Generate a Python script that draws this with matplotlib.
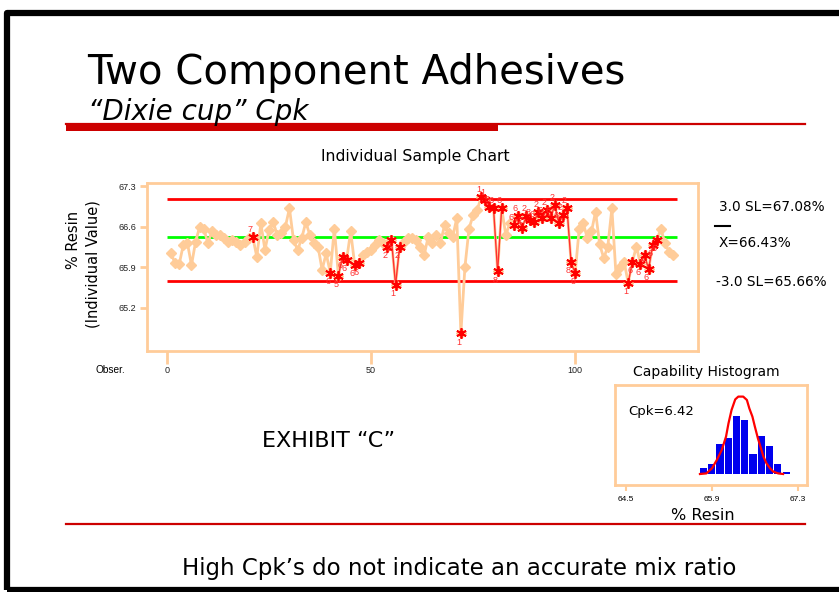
import matplotlib
matplotlib.use("Agg")
import matplotlib.pyplot as plt
from matplotlib.patches import Rectangle
from matplotlib.lines import Line2D

# ---------------- data ----------------
resin = [66.14, 65.97, 65.96, 66.29, 66.32, 65.94, 66.34, 66.60, 66.57, 66.32,
         66.52, 66.46, 66.46, 66.40, 66.34, 66.37, 66.34, 66.29, 66.34, 66.40,
         66.43, 66.08, 66.66, 66.20, 66.55, 66.69, 66.46, 66.50, 66.60, 66.92,
         66.37, 66.20, 66.40, 66.68, 66.46, 66.32, 66.26, 65.86, 66.14, 65.81,
         66.57, 65.76, 66.08, 66.03, 66.52, 65.94, 65.97, 66.11, 66.17, 66.20,
         66.29, 66.37, 66.32, 66.26, 66.37, 65.60, 66.26, 66.34, 66.40, 66.40,
         66.37, 66.26, 66.11, 66.43, 66.32, 66.46, 66.32, 66.63, 66.49, 66.43,
         66.75, 64.76, 65.91, 66.57, 66.80, 66.89, 67.12, 67.06, 66.95, 66.92,
         65.83, 66.92, 66.46, 66.66, 66.63, 66.78, 66.58, 66.78, 66.72, 66.69,
         66.86, 66.75, 66.89, 66.75, 66.98, 66.66, 66.80, 66.92, 65.99, 65.80,
         66.57, 66.66, 66.40, 66.52, 66.86, 66.30, 66.06, 66.26, 66.92, 65.78,
         65.91, 66.00, 65.63, 65.99, 66.26, 65.96, 66.11, 65.87, 66.29, 66.37,
         66.57, 66.32, 66.17, 66.11]
obs = list(range(1, len(resin) + 1))

flag_obs = [21, 40, 42, 43, 44, 46, 47, 54, 55, 56, 57, 72, 77, 78, 79, 80, 81, 82,
            85, 86, 87, 88, 89, 90, 91, 92, 93, 94, 95, 96, 97, 98, 99, 100,
            113, 114, 116, 117, 118, 119, 120]
flag_lbl = ["7", "6", "5", "6", "6", "6", "6", "2", "2", "1", "2", "1", "1", "1", "5", "6", "8", "6",
            "6", "6", "2", "2", "8", "6", "2", "6", "2", "6", "2", "6", "2", "2", "8", "8",
            "1", "6", "6", "7", "6", "6", "6"]

ucl, center, lcl = 67.08, 66.43, 65.66
y_ticks = [65.2, 65.9, 66.6, 67.3]
x_ticks = [0, 50, 100]

hist_centers = [65.76, 65.895, 66.03, 66.165, 66.30, 66.435, 66.57, 66.705, 66.84, 66.975, 67.11]
hist_counts = [3, 5, 15, 18, 29, 27, 10, 19, 14, 5, 1]
curve_x = [65.705, 65.81, 65.90, 65.98, 66.06, 66.13, 66.17, 66.22, 66.28, 66.33, 66.41,
           66.47, 66.51, 66.56, 66.60, 66.65, 66.70, 66.74, 66.79, 66.85, 66.90, 66.98, 67.06]
curve_y = [0.0, 0.3, 2.8, 7.0, 12.0, 18.7, 25.3, 32.0, 37.3, 38.7, 38.7,
           37.0, 32.8, 28.7, 23.7, 17.8, 12.8, 8.7, 5.3, 2.8, 1.2, 0.3, 0.0]
hist_ticks = [64.5, 65.9, 67.3]

# ---------------- figure ----------------
W, H = 839, 592
fig = plt.figure(figsize=(W / 100, H / 100), dpi=100)
fig.patch.set_facecolor("white")

def fx(x):
    return x / W

def fy(y):
    return 1 - y / H

def px_axes(l, t, r, b):
    return fig.add_axes([fx(l), fy(b), (r - l) / W, (b - t) / H])

WIDE = ["DejaVu Sans"]
SANS = ["Liberation Sans", "DejaVu Sans"]
PEACH = "#FFCC99"

# slide border
fig.add_artist(Rectangle((fx(7), fy(590)), fx(860) - fx(7), fy(12.5) - fy(590),
                         transform=fig.transFigure, fill=False, edgecolor="black",
                         linewidth=4.5, joinstyle="round"))

# title
fig.text(fx(87), fy(84), "Two Component Adhesives", family=WIDE, fontsize=29,
         ha="left", va="baseline")
fig.text(fx(88), fy(120), "\u201cDixie cup\u201d Cpk", family=WIDE, fontsize=20,
         style="italic", ha="left", va="baseline")
fig.add_artist(Line2D([fx(66), fx(805)], [fy(123.5), fy(123.5)], transform=fig.transFigure,
                      color="#CC0000", linewidth=1.6))
fig.add_artist(Rectangle((fx(66), fy(131)), fx(498) - fx(66), fy(123) - fy(131),
                         transform=fig.transFigure, color="#CC0000", linewidth=0))

# ---------------- individual chart ----------------
ax = px_axes(147, 183, 698, 351)
ax.set_xlim(-4.9, 130.1)
ax.set_ylim(64.458, 67.356)
for s in ax.spines.values():
    s.set_color(PEACH)
    s.set_linewidth(2)
ax.hlines([ucl, lcl], 0, 125, color="#FF0000", linewidth=2, zorder=2)
ax.hlines([center], 0, 125, color="#00FF00", linewidth=2, zorder=2)
ax.plot(obs, resin, color=PEACH, linewidth=2, marker="D", markersize=5,
        markerfacecolor=PEACH, markeredgecolor=PEACH, zorder=3)
fvals = [resin[o - 1] for o in flag_obs]
for i in range(len(flag_obs) - 1):
    if flag_obs[i + 1] - flag_obs[i] == 1:
        ax.plot(flag_obs[i:i + 2], fvals[i:i + 2], color="#FF3030", linewidth=1.0, zorder=4)
ax.plot(flag_obs, fvals, linestyle="none", marker=(6, 2, 0), markersize=7.5,
        markeredgewidth=1.3, color="#FF0000", zorder=5)
for o, v, lb in zip(flag_obs, fvals, flag_lbl):
    dy = 0.13 if v >= 66.4 else -0.15
    ax.text(o - 0.6, v + dy, lb, color="#FF3030", fontsize=6.5, family=SANS,
            ha="center", va="center", zorder=6)
ax.set_yticks(y_ticks)
ax.set_yticklabels([f"{t:.1f}" for t in y_ticks])
ax.set_xticks(x_ticks)
ax.tick_params(axis="both", color=PEACH, width=2, labelsize=6.5, labelcolor="#222222")
ax.tick_params(axis="y", length=5, pad=3)
ax.tick_params(axis="x", length=9, pad=2)
for lab in ax.get_xticklabels() + ax.get_yticklabels():
    lab.set_family(SANS)

fig.text(fx(415), fy(157), "Individual Sample Chart", family=WIDE, fontsize=11.3,
         ha="center", va="center")
fig.text(fx(73), fy(240), "% Resin", family=WIDE, fontsize=10.5, rotation=90,
         ha="center", va="center")
fig.text(fx(93), fy(264), "(Individual Value)", family=WIDE, fontsize=10.5, rotation=90,
         ha="center", va="center")
fig.text(fx(110), fy(370), "Obser.", family=SANS, fontsize=7.3, ha="center", va="center")

fig.text(fx(719), fy(207), f"3.0 SL={ucl:.2f}%", family=WIDE, fontsize=9.8,
         ha="left", va="center")
fig.add_artist(Line2D([fx(715), fx(730)], [fy(226), fy(226)], transform=fig.transFigure,
                      color="black", linewidth=1.5))
fig.text(fx(719), fy(243), f"X={center:.2f}%", family=WIDE, fontsize=9.8,
         ha="left", va="center")
fig.text(fx(716), fy(281.5), f"-3.0 SL={lcl:.2f}%", family=WIDE, fontsize=9.8,
         ha="left", va="center")

# ---------------- capability histogram ----------------
hx = px_axes(615, 385, 807, 485)
hx.set_xlim(64.32, 67.45)
hx.set_ylim(-5.5, 44.5)
for s in hx.spines.values():
    s.set_color(PEACH)
    s.set_linewidth(2)
hx.bar(hist_centers, hist_counts, width=0.118, color="#0000EE", zorder=2)
hx.plot(curve_x, curve_y, color="#FF0000", linewidth=1.6, zorder=3)
hx.set_yticks([])
hx.set_xticks(hist_ticks)
hx.set_xticklabels([f"{t:.1f}" for t in hist_ticks])
hx.tick_params(axis="x", color=PEACH, width=1.5, length=4, labelsize=6, pad=4)
for lab in hx.get_xticklabels():
    lab.set_family(SANS)
hx.text(0.068, 0.74, "Cpk=6.42", transform=hx.transAxes, family=WIDE, fontsize=9.5,
        ha="left", va="center")
fig.text(fx(706), fy(372), "Capability Histogram", family=WIDE, fontsize=10,
         ha="center", va="center")
fig.text(fx(703), fy(516), "% Resin", family=WIDE, fontsize=11.5, ha="center", va="center")

# ---------------- exhibit / footer ----------------
fig.text(fx(329), fy(441), "EXHIBIT \u201cC\u201d", family=WIDE, fontsize=16,
         ha="center", va="center")
fig.add_artist(Line2D([fx(66), fx(805)], [fy(524), fy(524)], transform=fig.transFigure,
                      color="#CC0000", linewidth=1.6))
fig.text(fx(459), fy(568), "High Cpk\u2019s do not indicate an accurate mix ratio",
         family=WIDE, fontsize=16.5, ha="center", va="center")

fig.savefig("out.png", dpi=100)
